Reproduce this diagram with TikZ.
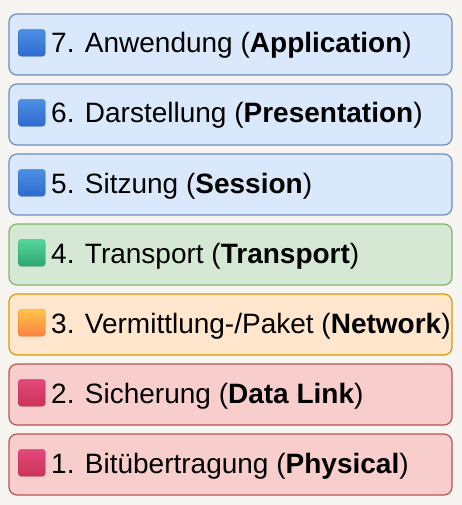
\documentclass[tikz,border=0pt]{standalone}
\usepackage{fontspec}
\setmainfont{Liberation Sans}
\begin{document}
\begin{tikzpicture}[x=1pt,y=-1pt,
  layerbox/.style={draw=#1, line width=1.2pt, rounded corners=8pt},
  lbl/.style={anchor=base west, inner sep=0pt, font=\fontsize{28}{34}\selectfont},
]
\definecolor{bgc}{HTML}{F6F5F1}
\definecolor{bluef}{HTML}{DAE8FC}\definecolor{blued}{HTML}{6C8EBF}
\definecolor{greenf}{HTML}{D5E8D4}\definecolor{greend}{HTML}{82B366}
\definecolor{orangef}{HTML}{FFE6CC}\definecolor{oranged}{HTML}{D79B00}
\definecolor{redf}{HTML}{F8CECC}\definecolor{redd}{HTML}{B85450}
\definecolor{bluetop}{HTML}{4C90E2}\definecolor{bluebot}{HTML}{2E6AD0}
\definecolor{greentop}{HTML}{55D69C}\definecolor{greenbot}{HTML}{2EA672}
\definecolor{orangetop}{HTML}{FFC44A}\definecolor{orangebot}{HTML}{FF8040}
\definecolor{redtop}{HTML}{E2487C}\definecolor{redbot}{HTML}{CC3358}
\fill[bgc] (0,0) rectangle (462,505);
\useasboundingbox (0,0) rectangle (462,505);
\foreach \i/\t/\f/\d/\ct/\cb/\txt in {
  0/14/bluef/blued/bluetop/bluebot/{7. Anwendung (\textbf{Application})},
  1/84/bluef/blued/bluetop/bluebot/{6. Darstellung (\textbf{Presentation})},
  2/154/bluef/blued/bluetop/bluebot/{5. Sitzung (\textbf{Session})},
  3/224/greenf/greend/greentop/greenbot/{4. Transport (\textbf{Transport})},
  4/294/orangef/oranged/orangetop/orangebot/{3. Vermittlung-/Paket (\textbf{Network})},
  5/364/redf/redd/redtop/redbot/{2. Sicherung (\textbf{Data Link})},
  6/434/redf/redd/redtop/redbot/{1. Bitübertragung (\textbf{Physical})}}{
  \path[layerbox=\d, fill=\f] (9,\t) rectangle (452,\t+61);
  \node[draw=\cb!80!black, draw opacity=0.35, line width=0.6pt, rounded corners=3pt,
        top color=\ct, bottom color=\cb, minimum size=27pt, inner sep=0pt,
        anchor=north west] (icon\i) at (18,\t+15) {};
  \node[lbl] (label\i) at (51,\t+39) {\txt};
}
\end{tikzpicture}
\end{document}
